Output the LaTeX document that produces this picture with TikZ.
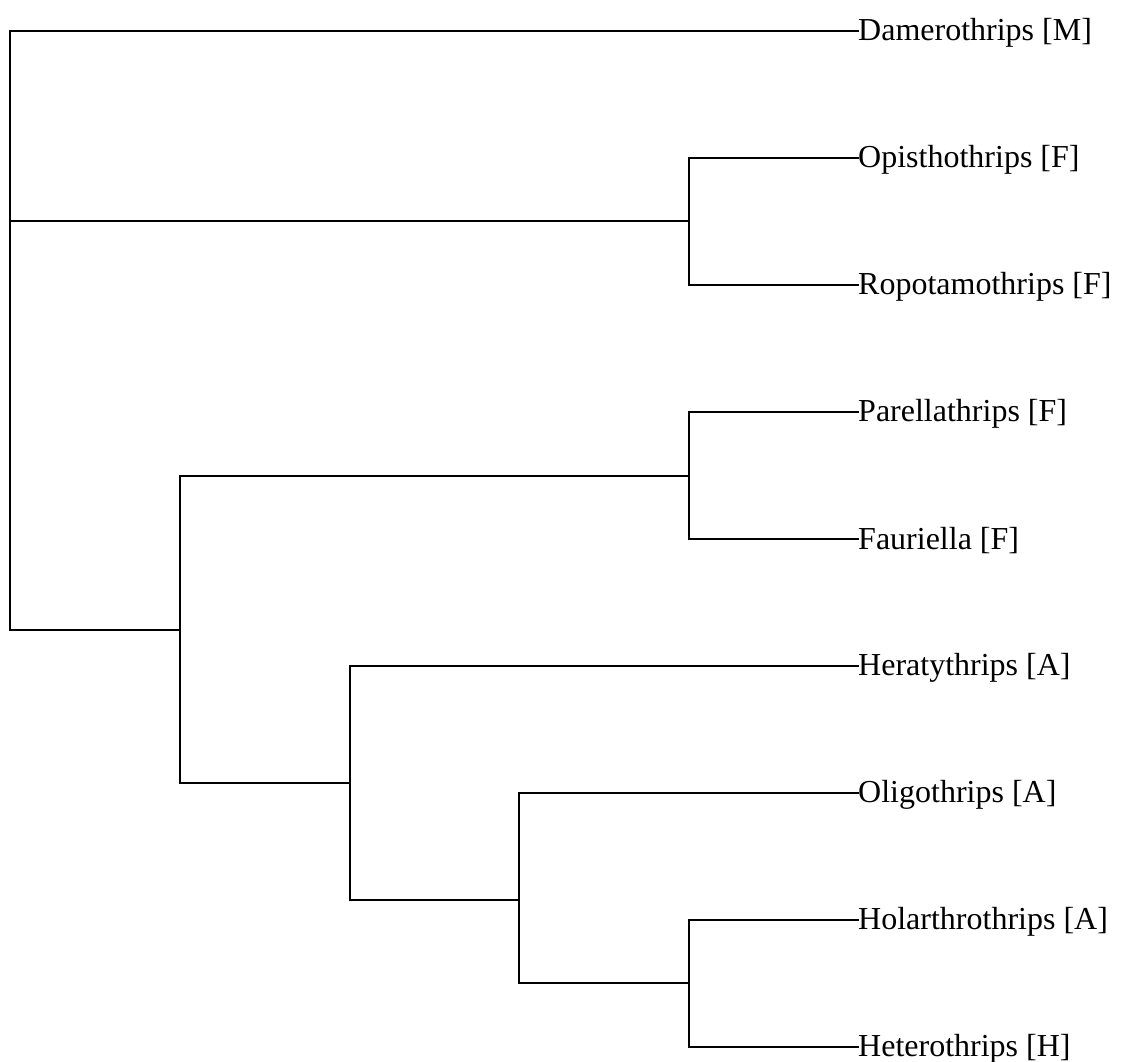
\documentclass[tikz,border=0pt]{standalone}
\usepackage{fontspec}
\setmainfont{Liberation Serif}
\begin{document}
\begin{tikzpicture}[x=1pt,y=-1pt,
  leaf/.style={anchor=west,inner sep=0pt,yshift=-1.5pt,font=\fontsize{32}{38}\selectfont},
  branch/.style={line width=2.2pt,line cap=rect}]
\useasboundingbox (0,0) rectangle (1126,1061);
% leaves
\node[leaf] (dam) at (858,31) {Damerothrips [M]};
\node[leaf] (opi) at (858,158) {Opisthothrips [F]};
\node[leaf] (rop) at (858,285) {Ropotamothrips [F]};
\node[leaf] (par) at (858,412) {Parellathrips [F]};
\node[leaf] (fau) at (858,539) {Fauriella [F]};
\node[leaf] (her) at (858,666) {Heratythrips [A]};
\node[leaf] (oli) at (858,793) {Oligothrips [A]};
\node[leaf] (hol) at (858,920) {Holarthrothrips [A]};
\node[leaf] (het) at (858,1047) {Heterothrips [H]};
% leaf attachment points
\coordinate (damp) at (858,31);
\coordinate (opip) at (858,158);
\coordinate (ropp) at (858,285);
\coordinate (parp) at (858,412);
\coordinate (faup) at (858,539);
\coordinate (herp) at (858,666);
\coordinate (olip) at (858,793);
\coordinate (holp) at (858,920);
\coordinate (hetp) at (858,1047);
% internal nodes
\coordinate (root) at (10,330);
\coordinate (nOR) at (689,221);
\coordinate (nB) at (180,630);
\coordinate (nPF) at (689,476);
\coordinate (nC) at (350,783);
\coordinate (nD) at (519,900);
\coordinate (nHH) at (689,983);
% branches
\draw[branch] (root) |- (damp);
\draw[branch] (root) |- (nOR);
\draw[branch] (root) |- (nB);
\draw[branch] (nOR) |- (opip);
\draw[branch] (nOR) |- (ropp);
\draw[branch] (nB) |- (nPF);
\draw[branch] (nB) |- (nC);
\draw[branch] (nPF) |- (parp);
\draw[branch] (nPF) |- (faup);
\draw[branch] (nC) |- (herp);
\draw[branch] (nC) |- (nD);
\draw[branch] (nD) |- (olip);
\draw[branch] (nD) |- (nHH);
\draw[branch] (nHH) |- (holp);
\draw[branch] (nHH) |- (hetp);
\end{tikzpicture}
\end{document}
